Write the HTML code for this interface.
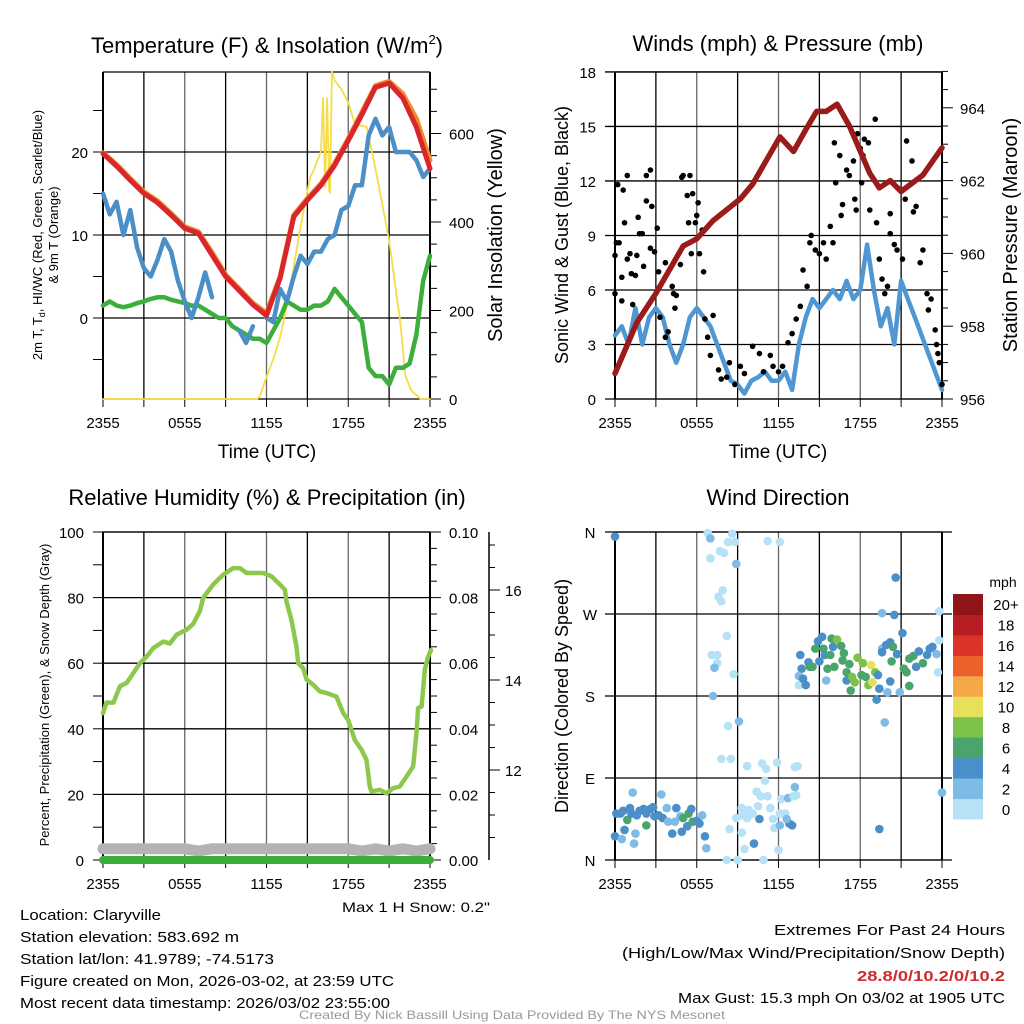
<!DOCTYPE html>
<html><head><meta charset="utf-8"><style>
html,body{margin:0;padding:0;background:#fff}
svg{display:block;font-family:"Liberation Sans",sans-serif}
</style></head><body>
<svg id="chart" width="1024" height="1024" viewBox="0 0 1024 1024">
<rect x="0" y="0" width="1024" height="1024" fill="#fff"/>
<g id="layer"></g>
<text x="267" y="53" font-size="22" text-anchor="middle">Temperature (F) &amp; Insolation (W/m<tspan font-size="13" dy="-9">2</tspan><tspan dy="9">)</tspan></text>
<text x="778" y="51" font-size="22" text-anchor="middle">Winds (mph) &amp; Pressure (mb)</text>
<text x="267" y="505" font-size="22" text-anchor="middle">Relative Humidity (%) &amp; Precipitation (in)</text>
<text x="778" y="505" font-size="22" text-anchor="middle">Wind Direction</text>
<text x="267" y="458" font-size="19" text-anchor="middle">Time (UTC)</text>
<text x="778" y="458" font-size="19" text-anchor="middle">Time (UTC)</text>
<text transform="translate(42,235) rotate(-90)" font-size="13" text-anchor="middle">2m T, T<tspan font-size="9" dy="3">d</tspan><tspan dy="-3">, HI/WC (Red, Green, Scarlet/Blue)</tspan></text>
<text transform="translate(58,235) rotate(-90)" font-size="13" text-anchor="middle">&amp; 9m T (Orange)</text>
<text transform="translate(502,235) rotate(-90)" font-size="20" text-anchor="middle">Solar Insolation (Yellow)</text>
<text transform="translate(568,235) rotate(-90)" font-size="18" text-anchor="middle">Sonic Wind &amp; Gust (Blue, Black)</text>
<text transform="translate(1017,235) rotate(-90)" font-size="20" text-anchor="middle">Station Pressure (Maroon)</text>
<text transform="translate(49,695) rotate(-90)" font-size="13" text-anchor="middle">Percent, Precipitation (Green), &amp; Snow Depth (Gray)</text>
<text transform="translate(568,696) rotate(-90)" font-size="18" text-anchor="middle">Direction (Colored By Speed)</text>
<text x="1003" y="587" font-size="14" text-anchor="middle">mph</text>
<text x="490" y="912" font-size="14" text-anchor="end" textLength="148" lengthAdjust="spacingAndGlyphs">Max 1 H Snow: 0.2"</text>
<g font-size="15">
<text x="20" y="920" textLength="141" lengthAdjust="spacingAndGlyphs">Location: Claryville</text>
<text x="20" y="942" textLength="219" lengthAdjust="spacingAndGlyphs">Station elevation: 583.692 m</text>
<text x="20" y="964" textLength="254" lengthAdjust="spacingAndGlyphs">Station lat/lon: 41.9789; -74.5173</text>
<text x="20" y="986" textLength="374" lengthAdjust="spacingAndGlyphs">Figure created on Mon, 2026-03-02, at 23:59 UTC</text>
<text x="20" y="1008" textLength="370" lengthAdjust="spacingAndGlyphs">Most recent data timestamp: 2026/03/02 23:55:00</text>
</g>
<g font-size="15" text-anchor="end">
<text x="1005" y="935" textLength="231" lengthAdjust="spacingAndGlyphs">Extremes For Past 24 Hours</text>
<text x="1005" y="958" textLength="383" lengthAdjust="spacingAndGlyphs">(High/Low/Max Wind/Precipitation/Snow Depth)</text>
<text x="1005" y="981" font-weight="bold" fill="#d02a2a" textLength="148" lengthAdjust="spacingAndGlyphs">28.8/0/10.2/0/10.2</text>
<text x="1005" y="1003" textLength="327" lengthAdjust="spacingAndGlyphs">Max Gust: 15.3 mph On 03/02 at 1905 UTC</text>
</g>
<text x="512" y="1019" font-size="12" fill="#999" text-anchor="middle" textLength="426" lengthAdjust="spacingAndGlyphs">Created By Nick Bassill Using Data Provided By The NYS Mesonet</text>
</svg>
<script>
// ---------- data ----------
const tempHours = [0,1,2,3,4,5,6,7,8,9,10,11,12,13,14,15,16,17,18,19,20,21,22,23,24];
const temp2m = [19.8,18.3,16.6,15.0,13.9,12.4,10.8,10.2,7.6,5.0,3.3,1.6,0.3,4.8,12.2,14.2,16.0,18.4,21.4,24.5,27.8,28.3,26.5,23.0,18.0];
const temp9m = [19.9,18.5,16.8,15.2,14.1,12.6,11.0,10.4,7.9,5.2,3.5,1.8,0.6,5.0,12.4,14.4,16.2,18.6,21.6,24.8,28.0,28.5,27.0,24.0,19.0];
const halfHours = [0,0.5,1,1.5,2,2.5,3,3.5,4,4.5,5,5.5,6,6.5,7,7.5,8,8.5,9,9.5,10,10.5,11,11.5,12,12.5,13,13.5,14,14.5,15,15.5,16,16.5,17,17.5,18,18.5,19,19.5,20,20.5,21,21.5,22,22.5,23,23.5,24];
const heatIndex = [15,12.5,14,10,13,8.5,6,5,7,9.5,8,4.5,2,0,2.5,5.5,2.5,null,null,null,-1.5,-3,-1,null,0,-0.5,3.5,2,5,7.5,6.5,8,8,9.5,10,13,13.5,16,16,22,24,22,23,20,20,20,19,17,18];
const dewPoint = [1.5,2,1.5,1.3,1.5,1.8,2,2.3,2.5,2.5,2.2,2,1.8,1.5,1.5,1,0.5,0,0,-1,-1.5,-2,-2.5,-2.5,-3,-1.5,0,2,1.5,1,1,1.5,1.5,2,3.5,2.5,1.5,0.5,-0.5,-6,-7,-7,-8,-6,-6,-5.5,-2,4.5,7.5];
const solarHours = [0,11.3,11.5,12,12.5,13,13.5,14,14.5,15,15.2,15.5,16.0,16.15,16.3,16.45,16.6,16.66,16.8,17,17.5,18,18.5,19.35,20,21,21.8,22.2,22.6,23.3,24];
const solarVals = [0,0,5,50,90,140,210,300,390,470,500,520,560,680,480,680,470,466,740,720,700,670,620,615,520,359,178,52,20,0,0];
const windHalf = [3.5,4,3,5,3,4.5,5,4.5,3,2,3,4.5,5,4.5,4,3,2,1,0.8,0.3,1,1.2,1.5,1,1,1.5,0.5,3,4.5,5.5,5,5.5,6,5.5,6.5,5.5,6,8.5,6,4,5,3,6.5,5.5,4.5,3.5,2.5,1.5,0.5];
const gustHours = [0,0,0.1,0.3,0.2,0.5,0.5,0.6,0.7,0.9,0.9,1.1,1.2,1.3,1.5,1.6,1.7,1.8,2.0,2.1,2.3,2.3,2.6,2.7,2.6,2.9,3.1,3.2,3.3,3.7,3.9,3.7,4.2,4.3,4.4,4.5,4.8,4.9,5.0,5.3,5.4,5.5,5.6,5.7,5.9,6.0,6.1,6.2,6.4,6.5,6.6,6.8,7.0,7.2,7.6,7.8,8.2,8.4,8.8,9.2,9.5,10.1,10.6,10.9,11.4,11.6,12.0,12.3,12.7,13.0,13.3,13.6,13.8,14.1,14.3,14.4,14.7,15.0,15.3,15.5,15.8,16.0,16.1,16.2,16.5,16.6,16.7,17.0,17.2,17.5,17.6,17.7,17.8,18.0,18.1,18.2,18.3,18.6,18.7,19.1,19.2,19.4,19.6,19.8,20.0,20.2,20.2,20.5,20.7,21.1,21.3,21.4,21.8,21.9,22.1,22.4,22.6,22.9,23.0,23.2,23.5,23.6,23.7,23.8,24.0];
const gustVals = [5.8,7.9,8.6,8.6,11.8,6.7,5.4,11.5,9.7,12.3,7.7,8.0,6.9,5.2,6.8,7.9,10.0,9.1,9.1,7.3,12.3,10.9,12.6,10.6,8.3,8.1,9.4,7.0,4.5,3.4,3.7,7.5,6.2,5.8,5.0,5.7,7.4,12.2,12.3,11.2,9.7,12.3,8.0,11.3,9.7,10.1,10.8,8.0,9.3,7.0,4.4,3.4,2.4,4.6,1.6,1.1,1.2,2.0,0.8,1.8,1.4,2.9,2.5,1.5,2.4,1.8,1.5,1.8,3.1,3.6,4.4,5.1,7.1,6.2,8.6,9.0,8.2,8.0,8.6,7.7,9.5,8.6,14.1,11.9,13.4,10.1,10.7,12.6,12.3,13.1,11.0,10.4,14.6,13.8,11.9,13.4,14.3,14.1,10.4,15.4,9.7,7.7,6.6,5.8,6.2,9.1,10.2,8.5,8.2,7.7,11.0,14.2,13.1,10.3,10.6,7.5,8.2,5.8,4.9,5.5,3.8,3.0,2.5,2.0,0.8];
const presHours = [0,1.6,3,5,6,7.2,9.2,10.1,12.1,13.1,14,14.8,15.5,16.3,17.2,18.7,19.4,20.2,21,22.6,24];
const presVals = [956.7,958.1,958.9,960.2,960.4,960.9,961.5,961.9,963.2,962.8,963.4,963.9,963.9,964.1,963.5,962.2,961.8,962.0,961.7,962.15,962.9];
const rhHours = [0,0.25,0.76,1.25,1.74,2.23,2.71,3.2,3.69,4.42,4.91,5.4,6.14,6.63,7.12,7.36,8.09,8.83,9.56,10.05,10.54,11.03,11.76,12.37,12.98,13.35,13.47,13.84,14.2,14.33,14.69,14.94,15.43,15.92,16.41,17.14,17.63,17.99,18.48,18.97,19.34,19.58,19.7,20.32,20.8,21.29,21.78,22.27,22.76,23.01,23.13,23.38,23.62,23.87,24.07];
const rhVals = [44.8,48,48,53,54,57,60,62,64.6,66.6,66,68.7,70.2,72,76,80,84,87,89,89,87.5,87.5,87.5,86.5,84,82.4,78.8,73,65,60,58.5,55,53.4,51.4,50.9,49.8,44.8,42.7,36.6,33.6,30.5,22.4,20.9,21.4,20.3,21.9,22.4,25.4,28.5,38.7,46.3,46.8,58,62,64];
const snowHours = [0,2,4,6,7,8,10,12,14,16,18,19,20,21,22,23,24];
const snowDepth = [10.25,10.25,10.25,10.25,10.2,10.25,10.25,10.25,10.25,10.25,10.25,10.2,10.25,10.2,10.25,10.2,10.25];
const precipHours = [0,24];
const precipVals = [0,0];
const dirHours = [0,6.8,7.0,8.6,8.3,8.8,11.2,12.1,7.7,8.0,7.0,8.9,7.9,7.6,7.8,8.2,7.1,7.5,7.5,7.3,8.7,7.2,8.3,9.1,7.8,8.5,9.7,10.8,11.1,11.9,13.2,13.4,11.0,10.4,10.7,11.2,12.2,12.7,13.1,13.3,13.2,10.5,11.4,9.3,9.8,10.1,12.1,12.5,8.9,9.4,9.7,10.6,11.6,12.8,12.6,13.0,8.4,9.3,10.2,9.5,12.0,8.2,9.0,10.9,11.7,12.1,
0.1,0.4,0.6,0.9,1.1,1.3,1.2,1.6,1.8,2.1,2.3,2.3,2.6,2.8,2.9,3.2,3.4,3.5,3.8,3.9,4.2,4.5,4.4,4.8,4.9,5.0,5.3,5.4,5.6,5.7,6.0,6.2,6.4,6.6,6.7,0.0,0.5,0.7,1.5,1.4,
13.6,13.7,13.5,13.5,13.8,14.0,14.2,14.3,14.5,14.7,14.9,15.2,15.3,15.0,15.5,15.4,15.6,15.8,16.0,15.9,16.1,16.3,16.6,16.7,16.8,17.0,17.0,17.2,17.3,17.4,17.6,17.8,18.1,18.2,18.4,18.6,18.8,18.9,19.1,19.2,19.3,19.4,19.6,19.6,19.9,20.2,20.3,20.2,20.0,19.8,20.4,20.7,20.9,21.1,21.2,21.4,21.6,21.6,21.9,22.1,22.3,22.6,22.9,23.1,23.3,23.6,23.7,23.8,20.6,19.6,20.5,23.8,19.4,24.0];
const dirDegrees = [355,359,353,358,349,349,350,349,339,337,331,325,296,289,284,246,225,225,216,211,204,180,147,152,111,111,103,106,100,107,102,103,87,75,70,70,67,68,70,71,80,59,57,57,55,51,51,51,46,49,46,45,45,40,45,38,34,30,18,12,11,0,0,0,35,38,
51,51,54,44,57,74,51,49,54,56,38,51,56,58,48,49,72,46,57,42,29,57,42,48,31,46,37,51,56,42,43,40,49,26,13,26,23,33,29,18,
225,210,202,192,199,192,217,212,212,232,240,245,232,218,197,225,210,225,234,243,212,242,235,219,227,197,206,215,186,201,195,222,203,216,201,192,214,195,206,176,203,188,232,228,236,239,218,196,184,151,234,226,184,249,210,206,191,221,224,212,229,216,225,232,234,226,206,241,310,271,269,273,34,74];
const dirSpeedClass = [2,0,1,0,0,0,0,0,0,0,0,1,0,0,0,0,0,0,0,1,0,1,0,1,0,0,0,0,0,0,0,0,0,0,0,0,0,1,0,0,1,0,0,0,0,0,0,0,0,0,0,2,0,2,1,2,0,0,2,0,0,0,0,0,0,1,
2,2,2,3,2,1,2,2,2,2,3,2,2,2,2,2,1,2,1,1,2,2,1,1,2,3,2,3,2,3,2,2,1,2,1,2,1,2,1,1,
2,2,1,0,2,2,2,3,3,3,2,2,3,2,1,2,3,3,2,3,3,4,3,3,3,2,3,3,3,4,4,4,3,4,3,4,5,5,4,2,2,2,1,2,2,2,3,2,1,1,3,2,1,2,3,3,3,3,3,2,2,3,2,2,2,1,0,0,2,1,2,0,2,1];
const speedColors = ['#b6e1f6','#7fbbe4','#4a8fc7','#4aa56c','#7cc24a','#e6e05a','#f5a848','#ec6129','#d9332a','#b81d23','#8f1518'];
const speedLabels = ['0','2','4','6','8','10','12','14','16','18','20+'];
const timeLabels = ['2355','0555','1155','1755','2355'];
const dirLabels = ['N','E','S','W','N'];

// ---------- helpers ----------
const NS = 'http://www.w3.org/2000/svg';
const layer = document.getElementById('layer');
function mk(tag, attrs) {
  const el = document.createElementNS(NS, tag);
  for (const k in attrs) el.setAttribute(k, attrs[k]);
  layer.appendChild(el);
  return el;
}
const PX_PER_H = 327 / 24;
const xL = h => 103 + h * PX_PER_H;
const xR = h => 615 + h * PX_PER_H;
const yTemp = v => 318 - v * 8.3;
const ySolar = w => 399 - w * 0.4425;
const yWind = v => 399 - v * 18.17;
const yPres = p => 399 - (p - 956) * 36.4;
const yRH = v => 860 - v * 3.28;
const yPrecip = p => 860 - p * 3280;
const ySnow = s => 860 - (s - 10) * 45;
const yDir = d => 860 - d * 328 / 360;

function linePath(xs, ys, xf, yf) {
  let d = '', pen = false;
  for (let i = 0; i < xs.length; i++) {
    if (ys[i] === null) { pen = false; continue; }
    d += (pen ? 'L' : 'M') + xf(xs[i]).toFixed(1) + ',' + yf(ys[i]).toFixed(1);
    pen = true;
  }
  return d;
}
function series(xs, ys, xf, yf, color, w, name) {
  const el = mk('path', {d: linePath(xs, ys, xf, yf), fill: 'none', stroke: color, 'stroke-width': w, 'stroke-linejoin': 'round', 'stroke-linecap': 'round'});
  
  
  return el;
}
function txt(x, y, s, size, anchor, name) {
  const el = mk('text', {x: x, y: y, 'font-size': size, 'text-anchor': anchor});
  el.textContent = s;
  
  
  return el;
}
function ln(x1, y1, x2, y2, color, w, name) {
  const el = mk('line', {x1: x1, y1: y1, x2: x2, y2: y2, stroke: color, 'stroke-width': w});
  
  
  return el;
}

// ---------- panel frames ----------
function timeAxis(xf, top, bottom, panel) {
  for (let h = 0; h <= 24; h += 3) {
    const x = xf(h);
    ln(x, top, x, bottom, (h % 6 === 3) ? '#000' : '#666', 1.3, panel + '-vgrid');
    ln(x, bottom, x, bottom + 8, '#000', 1, panel + '-xtick');
  }
  for (let i = 0; i < timeLabels.length; i++) {
    txt(xf(i * 6), bottom + 29, timeLabels[i], 15, 'middle', panel + '-xlabel');
  }
  ln(xf(0), top, xf(0), bottom, '#000', 2, panel + '-left-axis');
  ln(xf(24), top, xf(24), bottom, '#000', 2, panel + '-right-axis');
  ln(xf(0), top, xf(24), top, '#000', 1.3, panel + '-top-frame');
  ln(xf(0), bottom, xf(24), bottom, '#000', 1.3, panel + '-bottom-frame');
}
// Panel 1
timeAxis(xL, 72, 399, 'temp');
for (let v = -5; v <= 25; v += 5) {
  ln(93, yTemp(v), 103, yTemp(v), '#000', 1, 'temp-ytick');
  if (v % 10 === 0) {
    ln(103, yTemp(v), 430, yTemp(v), '#000', 1.3, 'temp-hgrid');
    txt(88, yTemp(v) + 6, String(v), 15, 'end', 'temp-ylabel');
  }
}
for (let w = 0; w <= 700; w += 50) {
  ln(430, ySolar(w), w % 200 === 0 ? 441 : 437, ySolar(w), '#000', 1, 'solar-ytick');
  if (w % 200 === 0) txt(449, ySolar(w) + 6, String(w), 15, 'start', 'solar-ylabel');
}
// Panel 2
timeAxis(xR, 72, 399, 'wind');
for (let v = 0; v <= 18; v += 3) {
  ln(605, yWind(v), 942, yWind(v), '#000', 1.3, 'wind-hgrid');
  txt(596, yWind(v) + 6, String(v), 15, 'end', 'wind-ylabel');
}
for (let p = 956; p <= 965; p += 0.5) {
  ln(942, yPres(p), p % 2 === 0 ? 953 : 948, yPres(p), '#000', 1, 'pressure-ytick');
  if (p % 2 === 0) txt(960, yPres(p) + 6, String(p), 15, 'start', 'pressure-ylabel');
}
// Panel 3
timeAxis(xL, 532, 860, 'rh');
for (let v = 0; v <= 100; v += 10) {
  ln(93, yRH(v), 103, yRH(v), '#000', 1, 'rh-ytick');
  if (v % 20 === 0) {
    ln(103, yRH(v), 430, yRH(v), '#000', 1.3, 'rh-hgrid');
    txt(84, yRH(v) + 6, String(v), 15, 'end', 'rh-ylabel');
  }
}
for (let i = 0; i <= 20; i++) {
  const p = i * 0.005;
  ln(430, yPrecip(p), i % 4 === 0 ? 441 : 437, yPrecip(p), '#000', 1, 'precip-ytick');
  if (i % 4 === 0) txt(449, yPrecip(p) + 6, p.toFixed(2), 15, 'start', 'precip-ylabel');
}
ln(489, 532, 489, 860, '#000', 1.5, 'snow-axis');
for (let s = 10.5; s <= 17; s += 0.5) {
  ln(489, ySnow(s), s % 2 === 0 ? 500 : 495, ySnow(s), '#000', 1, 'snow-ytick');
  if (s % 2 === 0) txt(505, ySnow(s) + 6, String(s), 15, 'start', 'snow-ylabel');
}
// Panel 4
timeAxis(xR, 532, 860, 'dir');
for (let i = 0; i < dirLabels.length; i++) {
  const d = i * 90;
  ln(605, yDir(d), 952, yDir(d), '#000', 1.3, 'dir-hgrid');
  txt(590, yDir(d) + 6, dirLabels[i], 15, 'middle', 'dir-ylabel');
}

// ---------- series ----------
series(solarHours, solarVals, xL, ySolar, '#f7dc45', 1.8, 'solar-line');
series(halfHours, dewPoint, xL, yTemp, '#3cae3c', 4.5, 'dewpoint-line');
series(halfHours, heatIndex, xL, yTemp, '#4a8fc7', 4.5, 'heat-index-line');
series(tempHours, temp9m, xL, yTemp, '#f08a2c', 5, 'temp-9m-line');
series(tempHours, temp2m, xL, yTemp, '#d9262a', 5, 'temp-2m-line');

series(halfHours, windHalf, xR, yWind, '#4f97d2', 4.5, 'wind-speed-line');
for (let i = 0; i < gustHours.length; i++) {
  const c = mk('circle', {cx: xR(gustHours[i]), cy: yWind(gustVals[i]), r: 2.8, fill: '#000'});
  
  
}
series(presHours, presVals, xR, yPres, '#9b1a1a', 5.5, 'pressure-line');

series(snowHours, snowDepth, xL, ySnow, '#b3b3b3', 11, 'snow-depth-line');
series(precipHours, precipVals, xL, yPrecip, '#3cae3c', 8, 'precip-line');
series(rhHours, rhVals, xL, yRH, '#8cc84b', 4.5, 'rh-line');

for (let i = 0; i < dirHours.length; i++) {
  const c = mk('circle', {cx: xR(dirHours[i]), cy: yDir(dirDegrees[i]), r: 4.3, fill: speedColors[dirSpeedClass[i]]});
  
  
}
// colorbar
const boxH = 225 / speedColors.length;
for (let i = 0; i < speedColors.length; i++) {
  const top = 819 - (i + 1) * boxH;
  const r = mk('rect', {x: 953, y: top, width: 30, height: boxH + 0.5, fill: speedColors[i]});
  
  
  txt(1006, top + boxH / 2 + 6, speedLabels[i], 15, 'middle', 'colorbar-label');
}
</script>
</body></html>
